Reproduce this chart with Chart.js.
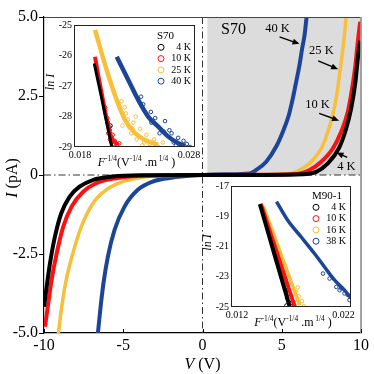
<!DOCTYPE html>
<html>
<head>
<meta charset="utf-8">
<script src="https://cdn.jsdelivr.net/npm/chart.js@4.4.0/dist/chart.umd.min.js"></script>
<style>
  body { margin: 0; background: #fff; }
  #wrap { position: relative; width: 374px; height: 374px; }
  canvas { position: absolute; }
</style>
</head>
<body>
<div id="wrap">
  <canvas id="main" width="374" height="374" style="left:0;top:0"></canvas>
  <canvas id="inset1" width="165" height="160" style="left:40px;top:15px"></canvas>
  <canvas id="inset2" width="165" height="152" style="left:200px;top:178px"></canvas>
</div>
<script>
// ---- main I-V curves (V in volts, I in pA) ----
const xTicks = [-10, -5, 0, 5, 10];
const yTicks = [-5, -2.5, 0, 2.5, 5];
const shadeFrom = 0.3;
const curveLabels = ["4 K", "10 K", "25 K", "40 K"];
const colors = ["#000000", "#ff1010", "#f8bf3a", "#1c4598"];

const iv4K = [
  { x: -10, y: -4.17 }, { x: -9.83, y: -3.53 }, { x: -9.62, y: -2.79 }, { x: -9.31, y: -1.95 },
  { x: -8.91, y: -1.21 }, { x: -8.39, y: -0.69 }, { x: -7.76, y: -0.37 }, { x: -6.92, y: -0.16 },
  { x: -5.66, y: -0.05 }, { x: -3.97, y: -0.01 }, { x: 0, y: 0 }, { x: 4, y: 0.0 }, { x: 6.33, y: 0.02 },
  { x: 7.17, y: 0.1 }, { x: 7.91, y: 0.37 }, { x: 8.6, y: 0.84 }, { x: 9.07, y: 1.48 },
  { x: 9.38, y: 2.11 }, { x: 9.65, y: 2.95 }, { x: 9.8, y: 3.69 }, { x: 9.95, y: 4.25 },
];
const iv10K = [
  { x: -9.94, y: -4.8 }, { x: -9.73, y: -4.06 }, { x: -9.52, y: -3.32 }, { x: -9.2, y: -2.48 },
  { x: -8.79, y: -1.64 }, { x: -8.26, y: -1.0 }, { x: -7.53, y: -0.53 }, { x: -6.71, y: -0.26 },
  { x: -5.44, y: -0.1 }, { x: -3.97, y: -0.03 }, { x: 0, y: 0 }, { x: 4, y: 0.01 }, { x: 5.91, y: 0.03 },
  { x: 6.75, y: 0.16 }, { x: 7.49, y: 0.42 }, { x: 8.22, y: 0.84 }, { x: 8.75, y: 1.37 },
  { x: 9.17, y: 2.0 }, { x: 9.44, y: 2.74 }, { x: 9.65, y: 3.48 }, { x: 9.8, y: 4.22 }, { x: 9.95, y: 4.85 },
];
const iv25K = [
  { x: -9.09, y: -5.01 }, { x: -8.91, y: -4.27 }, { x: -8.6, y: -3.32 }, { x: -8.18, y: -2.48 },
  { x: -7.65, y: -1.64 }, { x: -6.92, y: -0.9 }, { x: -6.08, y: -0.47 }, { x: -5.03, y: -0.21 },
  { x: -3.77, y: -0.07 }, { x: -2.29, y: -0.02 }, { x: 0, y: 0 }, { x: 3, y: 0.01 }, { x: 5.49, y: 0.04 },
  { x: 6.12, y: 0.16 }, { x: 6.86, y: 0.42 }, { x: 7.49, y: 0.84 }, { x: 7.91, y: 1.37 },
  { x: 8.22, y: 1.9 }, { x: 8.47, y: 2.53 }, { x: 8.64, y: 3.16 }, { x: 8.81, y: 3.8 },
  { x: 8.96, y: 4.43 }, { x: 9.07, y: 5.06 },
];
const iv40K = [
  { x: -6.6, y: -5.01 }, { x: -6.45, y: -4.27 }, { x: -6.25, y: -3.43 }, { x: -5.97, y: -2.58 },
  { x: -5.55, y: -1.74 }, { x: -4.92, y: -1.0 }, { x: -4.08, y: -0.47 }, { x: -3.14, y: -0.21 },
  { x: -2.19, y: -0.1 }, { x: -1, y: -0.03 }, { x: 0, y: 0 }, { x: 1.5, y: 0.02 }, { x: 2.97, y: 0.05 },
  { x: 3.39, y: 0.16 }, { x: 4.02, y: 0.42 }, { x: 4.65, y: 0.9 }, { x: 5.07, y: 1.37 },
  { x: 5.45, y: 1.9 }, { x: 5.7, y: 2.43 }, { x: 5.91, y: 2.95 }, { x: 6.12, y: 3.48 },
  { x: 6.29, y: 4.01 }, { x: 6.44, y: 4.43 }, { x: 6.58, y: 5.06 },
];

// annotation labels on main plot: [text, x, y], arrows: [x0, y0, x1, y1] (head at x1,y1)
const curveNotes = [["40 K", 4.73, 4.62], ["25 K", 7.5, 3.92], ["10 K", 7.26, 2.22], ["4 K", 9.08, 0.27]];
const curveArrows = [[4.86, 4.37, 6.12, 4.15], [7.3, 3.61, 8.56, 3.35], [7.36, 1.95, 8.62, 1.72], [9.13, 0.56, 8.45, 0.71]];

// ---- inset S70: ln I vs F^-1/4 ----
const s70Labels = ["4 K", "10 K", "25 K", "40 K"];
const s70Ticks = [0.018, 0.028];
const s70K4 = [{ x: 0.01931, y: -26.26 }, { x: 0.0196, y: -26.75 }, { x: 0.02, y: -27.42 }, { x: 0.0204, y: -28.12 }, { x: 0.02065, y: -28.54 }, { x: 0.02091, y: -28.99 }];
const s70K4Spread = [{ x: 0.0207, y: -28.45 }, { x: 0.02085, y: -28.7 }, { x: 0.0209, y: -28.85 }, { x: 0.0208, y: -28.3 }, { x: 0.02055, y: -28.2 }];
const s70K10 = [{ x: 0.01938, y: -26.04 }, { x: 0.0197, y: -26.7 }, { x: 0.0201, y: -27.45 }, { x: 0.02057, y: -28.28 }, { x: 0.0209, y: -28.7 }, { x: 0.02151, y: -28.93 }];
const s70K10Spread = [
  { x: 0.0206, y: -28.55 }, { x: 0.02075, y: -28.75 }, { x: 0.021, y: -28.6 }, { x: 0.02105, y: -28.9 },
  { x: 0.0212, y: -28.8 }, { x: 0.0214, y: -28.97 }, { x: 0.0216, y: -28.88 }, { x: 0.0203, y: -27.7 },
  { x: 0.0205, y: -28.05 }, { x: 0.0207, y: -28.35 },
];
const s70K25 = [{ x: 0.01938, y: -25.16 }, { x: 0.02045, y: -26.48 }, { x: 0.02137, y: -27.46 }, { x: 0.02213, y: -28.11 }, { x: 0.02305, y: -28.54 }, { x: 0.02396, y: -28.77 }, { x: 0.02516, y: -28.93 }];
const s70K25Spread = [
  { x: 0.0216, y: -27.65 }, { x: 0.0222, y: -27.9 }, { x: 0.0225, y: -28.35 }, { x: 0.0229, y: -28.2 },
  { x: 0.0232, y: -28.75 }, { x: 0.0235, y: -28.4 }, { x: 0.0237, y: -28.95 }, { x: 0.0241, y: -28.6 },
  { x: 0.0244, y: -28.9 }, { x: 0.0248, y: -28.75 }, { x: 0.0252, y: -29.0 }, { x: 0.0256, y: -28.85 },
  { x: 0.0227, y: -28.55 }, { x: 0.0219, y: -28.3 }, { x: 0.0231, y: -28.0 }, { x: 0.0221, y: -27.7 },
  { x: 0.0224, y: -28.1 }, { x: 0.0234, y: -28.65 }, { x: 0.0239, y: -28.85 }, { x: 0.0246, y: -28.95 },
  { x: 0.0228, y: -28.4 }, { x: 0.0218, y: -27.5 },
];
const s70K40 = [{ x: 0.02137, y: -26.04 }, { x: 0.02243, y: -26.8 }, { x: 0.02335, y: -27.46 }, { x: 0.02427, y: -28.01 }, { x: 0.02518, y: -28.33 }, { x: 0.0261, y: -28.66 }, { x: 0.02702, y: -28.88 }, { x: 0.02763, y: -28.97 }];
const s70K40Spread = [
  { x: 0.02455, y: -28.2 }, { x: 0.0258, y: -28.15 }, { x: 0.0262, y: -28.45 }, { x: 0.0266, y: -28.85 },
  { x: 0.0275, y: -28.8 }, { x: 0.0281, y: -29.0 }, { x: 0.0245, y: -27.85 }, { x: 0.0238, y: -27.6 },
  { x: 0.0253, y: -28.55 }, { x: 0.027, y: -28.7 }, { x: 0.0249, y: -28.05 }, { x: 0.0257, y: -28.5 },
  { x: 0.0264, y: -28.55 }, { x: 0.0268, y: -28.95 }, { x: 0.0278, y: -28.9 }, { x: 0.0236, y: -27.35 },
];

// ---- inset M90-1 ----
const m90Labels = ["4 K", "10 K", "16 K", "38 K"];
const m90Ticks = [0.012, 0.022];
const m90K4 = [{ x: 0.01415, y: -18.2 }, { x: 0.01555, y: -21.6 }, { x: 0.01695, y: -24.98 }];
const m90K4Spread = [{ x: 0.0167, y: -24.4 }, { x: 0.0169, y: -24.7 }, { x: 0.01665, y: -24.9 }, { x: 0.0171, y: -24.95 }, { x: 0.0168, y: -24.1 }, { x: 0.0166, y: -23.9 }];
const m90K10 = [{ x: 0.01424, y: -18.18 }, { x: 0.01583, y: -21.58 }, { x: 0.01742, y: -24.98 }];
const m90K16 = [{ x: 0.01446, y: -18.31 }, { x: 0.01618, y: -21.6 }, { x: 0.01789, y: -24.87 }];
const m90K16Spread = [{ x: 0.0178, y: -24.3 }, { x: 0.0181, y: -24.6 }, { x: 0.0183, y: -24.95 }, { x: 0.0176, y: -24.7 }, { x: 0.0175, y: -24.0 }, { x: 0.0177, y: -23.7 }];
const m90K38 = [{ x: 0.01571, y: -18.03 }, { x: 0.01679, y: -19.3 }, { x: 0.01805, y: -20.39 }, { x: 0.01929, y: -21.48 }, { x: 0.02022, y: -22.36 }, { x: 0.02116, y: -23.23 }, { x: 0.02209, y: -23.89 }, { x: 0.02266, y: -24.4 }];
const m90K38Spread = [
  { x: 0.02007, y: -22.79 }, { x: 0.02069, y: -23.12 }, { x: 0.02132, y: -23.67 }, { x: 0.02178, y: -23.77 },
  { x: 0.02209, y: -24.1 }, { x: 0.02256, y: -24.54 }, { x: 0.02163, y: -23.89 }, { x: 0.0224, y: -24.2 },
];

const SERIF = '"Liberation Serif", "DejaVu Serif", serif';

const drawRich = (ctx, parts, x, y, size, align) => {
  const fontOf = (p) => `${p.i ? "italic " : ""}${p.sup ? size * 0.62 : size}px ${SERIF}`;
  let w = 0;
  parts.forEach((p) => { ctx.font = fontOf(p); w += ctx.measureText(p.t).width; });
  let cx = align === "center" ? x - w / 2 : x;
  ctx.textAlign = "left";
  ctx.textBaseline = "alphabetic";
  parts.forEach((p) => {
    ctx.font = fontOf(p);
    ctx.fillText(p.t, cx, p.sup ? y - size * 0.45 : y);
    cx += ctx.measureText(p.t).width;
  });
};

const arrow = (ctx, x0, y0, x1, y1) => {
  const a = Math.atan2(y1 - y0, x1 - x0);
  ctx.beginPath();
  ctx.moveTo(x0, y0);
  ctx.lineTo(x1 - 4 * Math.cos(a), y1 - 4 * Math.sin(a));
  ctx.stroke();
  ctx.beginPath();
  ctx.moveTo(x1, y1);
  ctx.lineTo(x1 - 7 * Math.cos(a) + 3 * Math.sin(a), y1 - 7 * Math.sin(a) - 3 * Math.cos(a));
  ctx.lineTo(x1 - 7 * Math.cos(a) - 3 * Math.sin(a), y1 - 7 * Math.sin(a) + 3 * Math.cos(a));
  ctx.closePath();
  ctx.fill();
};

const mainDecor = {
  id: "mainDecor",
  beforeDatasetsDraw(chart) {
    const { ctx, chartArea: a, scales: { x, y } } = chart;
    ctx.save();
    // shaded quadrant
    ctx.fillStyle = "#dcdcdc";
    const sx = x.getPixelForValue(shadeFrom);
    ctx.fillRect(sx, a.top, a.right - sx, y.getPixelForValue(0) - a.top);
    // dash-dot zero lines
    ctx.strokeStyle = "#333";
    ctx.lineWidth = 1;
    ctx.setLineDash([7, 3, 1.5, 3]);
    ctx.beginPath();
    ctx.moveTo(a.left, y.getPixelForValue(0));
    ctx.lineTo(a.right, y.getPixelForValue(0));
    ctx.moveTo(x.getPixelForValue(0), a.top);
    ctx.lineTo(x.getPixelForValue(0), a.bottom);
    ctx.stroke();
    ctx.restore();
  },
  afterDraw(chart) {
    const { ctx, chartArea: a, scales: { x, y } } = chart;
    ctx.save();
    // frame
    ctx.lineWidth = 1.2;
    ctx.strokeStyle = "#444";
    ctx.beginPath();
    ctx.moveTo(a.left, a.top + 0.5);
    ctx.lineTo(a.right, a.top + 0.5);
    ctx.stroke();
    ctx.strokeStyle = "#999";
    ctx.lineWidth = 1.8;
    ctx.beginPath();
    ctx.moveTo(a.right, a.top);
    ctx.lineTo(a.right, a.bottom);
    ctx.stroke();
    // inward x ticks
    ctx.strokeStyle = "#000";
    ctx.lineWidth = 1;
    xTicks.forEach((v) => {
      const px = Math.round(x.getPixelForValue(v)) + 0.5;
      ctx.beginPath();
      ctx.moveTo(px, a.bottom);
      ctx.lineTo(px, a.bottom - 4);
      ctx.stroke();
    });
    // axis titles
    ctx.fillStyle = "#000";
    drawRich(ctx, [{ t: "V", i: true }, { t: " (V)" }], (a.left + a.right) / 2, 369, 16, "center");
    ctx.save();
    ctx.translate(17, (a.top + a.bottom) / 2 + 3);
    ctx.rotate(-Math.PI / 2);
    drawRich(ctx, [{ t: "I", i: true }, { t: " (pA)" }], 0, 0, 16, "center");
    ctx.restore();
    // sample label and curve notes
    ctx.font = `16px ${SERIF}`;
    ctx.textAlign = "center";
    ctx.textBaseline = "middle";
    ctx.fillText("S70", x.getPixelForValue(1.96), y.getPixelForValue(4.59));
    ctx.font = `12.5px ${SERIF}`;
    curveNotes.forEach(([t, vx, vy]) => ctx.fillText(t, x.getPixelForValue(vx), y.getPixelForValue(vy)));
    ctx.lineWidth = 1.4;
    ctx.strokeStyle = "#000";
    curveArrows.forEach(([x0, y0, x1, y1]) =>
      arrow(ctx, x.getPixelForValue(x0), y.getPixelForValue(y0), x.getPixelForValue(x1), y.getPixelForValue(y1))
    );
    ctx.restore();
  },
};

new Chart(document.getElementById("main"), {
  type: "line",
  data: {
    datasets: [iv4K, iv10K, iv25K, iv40K].map((d, i) => ({
      label: curveLabels[i],
      data: d,
      borderColor: colors[i],
      borderWidth: i === 2 ? 3.5 : 4,
      pointRadius: 0,
      cubicInterpolationMode: "monotone",
      fill: false,
    })),
  },
  options: {
    responsive: false,
    animation: false,
    layout: { padding: { left: 0, right: 13, top: 17, bottom: 0 } },
    plugins: { legend: { display: false }, tooltip: { enabled: false } },
    scales: {
      x: {
        type: "linear",
        min: -10,
        max: 10,
        afterFit: (s) => { s.height = 41; },
        afterBuildTicks: (s) => { s.ticks = xTicks.map((v) => ({ value: v })); },
        ticks: { color: "#000", font: { family: SERIF, size: 16 }, padding: 3, maxRotation: 0, autoSkip: false },
        grid: { drawOnChartArea: false, drawTicks: false },
        border: { color: "#000", width: 1.2 },
      },
      y: {
        min: -5,
        max: 5,
        afterFit: (s) => { s.width = 44; },
        afterBuildTicks: (s) => { s.ticks = yTicks.map((v) => ({ value: v })); },
        ticks: {
          color: "#000",
          font: { family: SERIF, size: 16 },
          padding: 1,
          callback: (v) => (v === 0 ? "0" : v.toFixed(1)),
        },
        grid: { drawOnChartArea: false, tickLength: 5, color: "#000" },
        border: { color: "#000", width: 1.2 },
      },
    },
  },
  plugins: [mainDecor],
});

// ---- insets ----
const insetDecor = (title, labels, legendX, legendY) => ({
  id: "insetDecor",
  beforeDraw(chart) {
    const { ctx, chartArea: a } = chart;
    ctx.save();
    ctx.fillStyle = "#fff";
    ctx.fillRect(a.left, a.top, a.right - a.left, a.bottom - a.top);
    ctx.restore();
  },
  afterDraw(chart) {
    const { ctx, chartArea: a } = chart;
    ctx.save();
    ctx.strokeStyle = "#222";
    ctx.lineWidth = 1;
    ctx.strokeRect(a.left + 0.5, a.top + 0.5, a.right - a.left - 1, a.bottom - a.top - 1);
    ctx.fillStyle = "#000";
    drawRich(ctx, [{ t: "F", i: true }, { t: "-1/4", sup: true }, { t: "(V" }, { t: "-1/4", sup: true }, { t: " .m" }, { t: " 1/4", sup: true }, { t: " )" }],
      (a.left + a.right) / 2 + 2, a.bottom + 19, 12, "center");
    ctx.save();
    ctx.translate(a.left - 20, (a.top + a.bottom) / 2 - 4);
    ctx.rotate(-Math.PI / 2);
    drawRich(ctx, [{ t: "ln I", i: true }], 0, 0, 12, "center");
    ctx.restore();
    // legend
    ctx.font = `11px ${SERIF}`;
    ctx.textAlign = "left";
    ctx.textBaseline = "middle";
    ctx.fillText(title, legendX - 4, legendY);
    ctx.font = `10px ${SERIF}`;
    labels.forEach((t, i) => {
      const ly = legendY + 11.3 * (i + 1);
      ctx.strokeStyle = colors[i];
      ctx.lineWidth = 1;
      ctx.beginPath();
      ctx.arc(legendX, ly, 3, 0, Math.PI * 2);
      ctx.stroke();
      ctx.textAlign = "right";
      ctx.fillText(t, legendX + 30, ly);
    });
    ctx.restore();
  },
});

const insetSets = (lines, spreads, widths) => {
  const sets = [];
  lines.forEach((d, i) => {
    sets.push({ data: d, showLine: true, borderColor: colors[i], borderWidth: widths[i], pointRadius: 0, cubicInterpolationMode: "monotone" });
  });
  spreads.forEach(([d, i]) => {
    sets.push({ data: d, showLine: false, pointRadius: 1.8, pointBorderWidth: 1, pointBorderColor: colors[i], pointBackgroundColor: "rgba(0,0,0,0)" });
  });
  return sets;
};

const insetOptions = (xmin, xmax, xt, ymin, ymax, ystep, pad, yw, xh) => ({
  responsive: false,
  animation: false,
  layout: { padding: pad },
  plugins: { legend: { display: false }, tooltip: { enabled: false } },
  scales: {
    x: {
      type: "linear",
      min: xmin,
      max: xmax,
      afterFit: (s) => { s.height = xh; },
      afterBuildTicks: (s) => { s.ticks = xt.map((v) => ({ value: v })); },
      ticks: { color: "#000", font: { family: SERIF, size: 10 }, padding: 2, maxRotation: 0, autoSkip: false, callback: (v) => v.toFixed(3) },
      grid: { drawOnChartArea: false, drawTicks: false },
      border: { display: false },
    },
    y: {
      min: ymin,
      max: ymax,
      afterFit: (s) => { s.width = yw; },
      ticks: { color: "#000", font: { family: SERIF, size: 10 }, stepSize: ystep, padding: 2 },
      grid: { drawOnChartArea: false, drawTicks: false },
      border: { display: false },
    },
  },
});

new Chart(document.getElementById("inset1"), {
  type: "scatter",
  data: {
    datasets: insetSets(
      [s70K4, s70K10, s70K25, s70K40],
      [[s70K4Spread, 0], [s70K10Spread, 1], [s70K25Spread, 2], [s70K40Spread, 3]],
      [3, 4, 4.5, 4.5]
    ),
  },
  options: insetOptions(0.01745, 0.02855, s70Ticks, -29, -25, 1, { left: 0, right: 10, top: 10, bottom: 0 }, 34, 28),
  plugins: [insetDecor("S70", s70Labels, 121, 21)],
});

new Chart(document.getElementById("inset2"), {
  type: "scatter",
  data: {
    datasets: insetSets(
      [m90K4, m90K10, m90K16, m90K38],
      [[m90K4Spread, 0], [m90K16Spread, 2], [m90K38Spread, 3]],
      [4, 4, 3.5, 3.5]
    ),
  },
  options: insetOptions(0.01144, 0.0227, m90Ticks, -25, -17, 2, { left: 0, right: 14, top: 7, bottom: 0 }, 31, 23),
  plugins: [insetDecor("M90-1", m90Labels, 116, 18)],
});
</script>
</body>
</html>
